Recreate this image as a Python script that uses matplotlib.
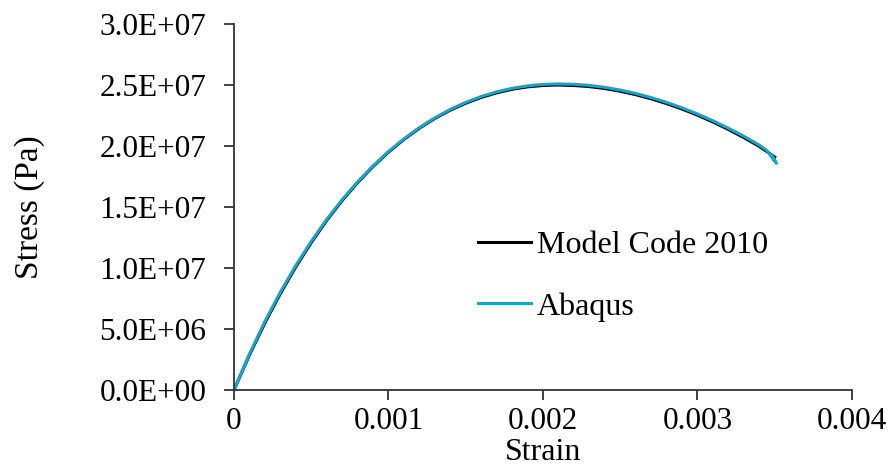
import matplotlib.pyplot as plt
from matplotlib.ticker import FuncFormatter

plt.rcParams['font.family'] = ['Liberation Serif', 'DejaVu Serif']

strain = [0.0, 0.0001, 0.0002, 0.0003, 0.0004, 0.0005, 0.0006, 0.0007, 0.0008, 0.0009,
          0.0010, 0.0011, 0.0012, 0.0013, 0.0014, 0.0015, 0.0016, 0.0017, 0.0018, 0.0019,
          0.0020, 0.0021, 0.0022, 0.0023, 0.0024, 0.0025, 0.0026, 0.0027, 0.0028, 0.0029,
          0.0030, 0.0031, 0.0032, 0.0033, 0.0034, 0.0035]
stress_mc2010 = [0.0, 2.87e6, 5.50e6, 7.90e6, 10.09e6, 12.08e6, 13.90e6, 15.53e6, 17.00e6, 18.32e6,
                 19.50e6, 20.54e6, 21.46e6, 22.26e6, 22.94e6, 23.51e6, 23.98e6, 24.36e6, 24.65e6, 24.85e6,
                 24.96e6, 25.00e6, 24.96e6, 24.87e6, 24.71e6, 24.49e6, 24.21e6, 23.87e6, 23.48e6, 23.03e6,
                 22.53e6, 21.97e6, 21.36e6, 20.69e6, 19.97e6, 19.10e6]

strain_abaqus = [0.0, 0.0001, 0.0002, 0.0003, 0.0004, 0.0005, 0.0006, 0.0007, 0.0008, 0.0009,
                 0.0010, 0.0011, 0.0012, 0.0013, 0.0014, 0.0015, 0.0016, 0.0017, 0.0018, 0.0019,
                 0.0020, 0.0021, 0.0022, 0.0023, 0.0024, 0.0025, 0.0026, 0.0027, 0.0028, 0.0029,
                 0.0030, 0.0031, 0.0032, 0.0033, 0.0034, 0.00345, 0.00350, 0.00348, 0.00351]
stress_abaqus = [0.0, 2.95e6, 5.62e6, 8.02e6, 10.20e6, 12.18e6, 13.98e6, 15.60e6, 17.06e6, 18.37e6,
                 19.55e6, 20.59e6, 21.51e6, 22.31e6, 23.00e6, 23.58e6, 24.06e6, 24.44e6, 24.73e6, 24.93e6,
                 25.05e6, 25.09e6, 25.06e6, 24.97e6, 24.81e6, 24.59e6, 24.31e6, 23.97e6, 23.58e6, 23.13e6,
                 22.63e6, 22.07e6, 21.46e6, 20.80e6, 20.08e6, 19.62e6, 18.75e6, 19.30e6, 18.60e6]

x_ticks = [0, 0.001, 0.002, 0.003, 0.004]
x_tick_labels = ['0', '0.001', '0.002', '0.003', '0.004']
y_ticks = [0, 5e6, 1e7, 1.5e7, 2e7, 2.5e7, 3e7]

fig = plt.figure(figsize=(8.91, 4.66), dpi=100)
ax = fig.add_axes([0.2626, 0.163, 0.6936, 0.7855])

ax.plot(strain, stress_mc2010, color='black', lw=2.2, label='Model Code 2010')
ax.plot(strain_abaqus, stress_abaqus, color='#1AA3C8', lw=2.2, label='Abaqus')

ax.set_xlim(0, 0.004)
ax.set_ylim(0, 3e7)
ax.set_xticks(x_ticks)
ax.set_xticklabels(x_tick_labels)
ax.set_yticks(y_ticks)
ax.yaxis.set_major_formatter(FuncFormatter(lambda v, pos: f'{v:.1E}'))

for side in ['top', 'right']:
    ax.spines[side].set_visible(False)
for side in ['left', 'bottom']:
    ax.spines[side].set_linewidth(1.3)
    ax.spines[side].set_color('#333333')
ax.tick_params(direction='out', length=7, width=1.3, color='#333333', labelsize=22.5)
ax.tick_params(axis='y', pad=13)
ax.tick_params(axis='x', pad=5)

ax.set_xlabel('Strain', fontsize=23, labelpad=2)
ax.set_ylabel('Stress (Pa)', fontsize=24, labelpad=39)

ax.legend(loc='center left', bbox_to_anchor=(0.395, 0.311), frameon=False, fontsize=23,
          handlelength=1.65, handletextpad=0.2, labelspacing=1.0, borderpad=0, borderaxespad=0)

fig.savefig('out.png', dpi=100)
